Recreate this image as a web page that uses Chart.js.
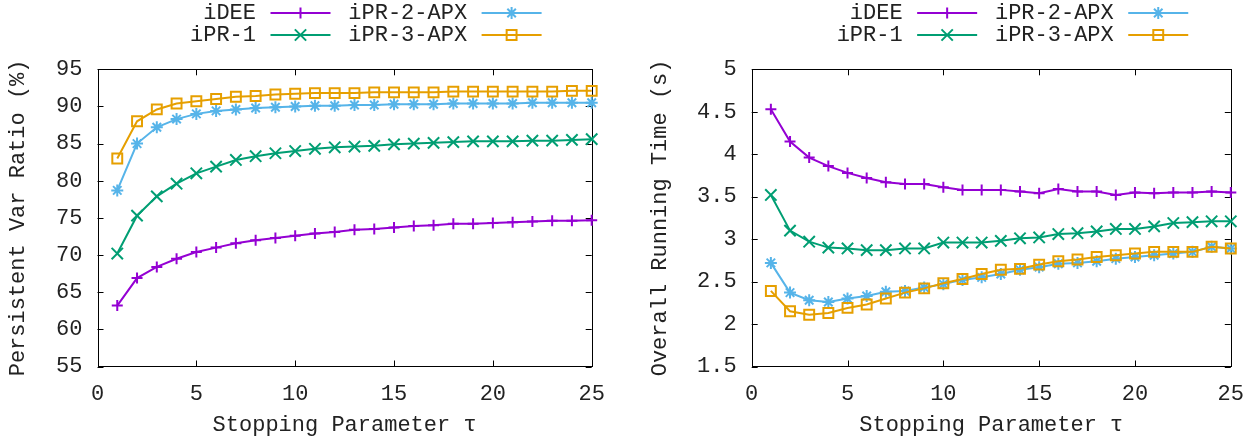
<!DOCTYPE html>
<html>
<head>
<meta charset="utf-8">
<script src="https://cdn.jsdelivr.net/npm/chart.js@4/dist/chart.umd.min.js"></script>
<style>
    body { margin: 0; background: #fff; }
    .charts { display: flex; width: 1258px; height: 438px; }
    .panel { width: 629px; height: 438px; }
</style>
</head>
<body>
<div class="charts">
    <div class="panel"><canvas id="ratioChart" width="629" height="438"></canvas></div>
    <div class="panel"><canvas id="timeChart" width="629" height="438"></canvas></div>
</div>
<script>
// Stopping parameter tau
const taus = [1, 2, 3, 4, 5, 6, 7, 8, 9, 10, 11, 12, 13, 14, 15, 16, 17, 18, 19, 20, 21, 22, 23, 24, 25];

const seriesNames = ['iDEE', 'iPR-1', 'iPR-2-APX', 'iPR-3-APX'];

// Persistent var ratio (%)
const ratioIDEE = [63.2, 66.9, 68.4, 69.5, 70.4, 71.0, 71.6, 72.0, 72.3, 72.6, 72.9, 73.1, 73.4, 73.5, 73.7, 73.9, 74.0, 74.2, 74.2, 74.3, 74.4, 74.5, 74.6, 74.6, 74.7];
const ratioIPR1 = [70.2, 75.3, 77.9, 79.6, 81.0, 81.9, 82.8, 83.3, 83.7, 84.0, 84.3, 84.5, 84.6, 84.7, 84.9, 85.0, 85.1, 85.2, 85.3, 85.3, 85.3, 85.4, 85.4, 85.5, 85.6];
const ratioIPR2 = [78.7, 85.0, 87.2, 88.3, 89.0, 89.4, 89.6, 89.8, 89.9, 90.0, 90.1, 90.1, 90.2, 90.2, 90.3, 90.3, 90.3, 90.4, 90.4, 90.4, 90.4, 90.5, 90.5, 90.5, 90.5];
const ratioIPR3 = [83.0, 88.0, 89.6, 90.4, 90.7, 91.0, 91.3, 91.4, 91.6, 91.7, 91.8, 91.8, 91.8, 91.9, 91.9, 91.9, 91.9, 92.0, 92.0, 92.0, 92.0, 92.0, 92.0, 92.1, 92.1];

// Overall running time (s)
const timeIDEE = [4.53, 4.15, 3.96, 3.86, 3.78, 3.72, 3.67, 3.65, 3.65, 3.61, 3.58, 3.58, 3.58, 3.56, 3.54, 3.59, 3.56, 3.56, 3.52, 3.55, 3.54, 3.55, 3.55, 3.56, 3.55];
const timeIPR1 = [3.52, 3.10, 2.97, 2.90, 2.89, 2.87, 2.87, 2.89, 2.89, 2.96, 2.96, 2.96, 2.98, 3.01, 3.02, 3.06, 3.07, 3.09, 3.12, 3.12, 3.15, 3.19, 3.20, 3.21, 3.21];
const timeIPR2 = [2.72, 2.37, 2.28, 2.26, 2.30, 2.33, 2.38, 2.39, 2.43, 2.47, 2.52, 2.55, 2.59, 2.64, 2.67, 2.71, 2.72, 2.74, 2.77, 2.79, 2.81, 2.83, 2.85, 2.91, 2.89];
const timeIPR3 = [2.39, 2.15, 2.11, 2.13, 2.19, 2.23, 2.30, 2.37, 2.42, 2.48, 2.53, 2.59, 2.64, 2.65, 2.70, 2.74, 2.76, 2.79, 2.81, 2.83, 2.85, 2.85, 2.85, 2.91, 2.89];

// Tick values and labels
const xTickValues = [0, 5, 10, 15, 20, 25];
const xTickLabels = ['0', '5', '10', '15', '20', '25'];
const ratioTickValues = [55, 60, 65, 70, 75, 80, 85, 90, 95];
const ratioTickLabels = ['55', '60', '65', '70', '75', '80', '85', '90', '95'];
const timeTickValues = [1.5, 2, 2.5, 3, 3.5, 4, 4.5, 5];
const timeTickLabels = ['1.5', '2', '2.5', '3', '3.5', '4', '4.5', '5'];

const FONT = "'Liberation Mono', 'Courier New', monospace";
const TEXT = '#222';
Chart.defaults.font.family = FONT;
Chart.defaults.font.size = 22;
Chart.defaults.color = TEXT;

const styles = [
    { color: '#9400D3', pointStyle: 'cross', radius: 5.5 },
    { color: '#009E73', pointStyle: 'crossRot', radius: 8 },
    { color: '#56B4E9', pointStyle: 'star', radius: 6 },
    { color: '#E69F00', pointStyle: 'rect', radius: 7 }
];

// gnuplot style frame: border box with inward ticks on all four sides
const framePlugin = {
    id: 'frame',
    beforeDatasetsDraw(chart) {
        const { ctx, chartArea: a, scales } = chart;
        const len = 6;
        ctx.save();
        ctx.strokeStyle = '#000';
        ctx.lineWidth = 1;
        ctx.beginPath();
        scales.x.ticks.forEach(t => {
            const px = Math.round(scales.x.getPixelForValue(t.value)) + 0.5;
            ctx.moveTo(px, a.bottom); ctx.lineTo(px, a.bottom - len);
            ctx.moveTo(px, a.top); ctx.lineTo(px, a.top + len);
        });
        scales.y.ticks.forEach(t => {
            const py = Math.round(scales.y.getPixelForValue(t.value)) + 0.5;
            ctx.moveTo(a.left, py); ctx.lineTo(a.left + len, py);
            ctx.moveTo(a.right, py); ctx.lineTo(a.right - len, py);
        });
        ctx.stroke();
        ctx.strokeRect(Math.round(a.left) + 0.5, Math.round(a.top) + 0.5,
            Math.round(a.right - a.left), Math.round(a.bottom - a.top));
        ctx.restore();
    }
};

// two column legend above the plot, like gnuplot's key
const keyPlugin = {
    id: 'key',
    afterDraw(chart) {
        const { ctx, chartArea: a } = chart;
        const cx = (a.left + a.right) / 2;
        const cols = [cx - 88.6, cx + 122.5];
        const rows = [13, 35];
        const order = [0, 2, 1, 3];
        ctx.save();
        ctx.font = '22px ' + FONT;
        ctx.textAlign = 'right';
        ctx.textBaseline = 'middle';
        order.forEach((di, i) => {
            const ds = chart.data.datasets[di];
            const tx = cols[i % 2];
            const ty = rows[Math.floor(i / 2)];
            ctx.fillStyle = TEXT;
            ctx.fillText(ds.label, tx, ty);
            const x0 = tx + 14.5, x1 = x0 + 60;
            ctx.strokeStyle = ds.borderColor;
            ctx.lineWidth = 2;
            ctx.beginPath();
            ctx.moveTo(x0, ty); ctx.lineTo(x1, ty);
            ctx.stroke();
            ctx.fillStyle = 'rgba(0,0,0,0)';
            Chart.helpers.drawPoint(ctx, {
                pointStyle: ds.pointStyle,
                radius: ds.pointRadius,
                borderWidth: ds.pointBorderWidth,
                rotation: 0
            }, (x0 + x1) / 2, ty);
        });
        ctx.restore();
    }
};

function buildDatasets(seriesValues) {
    return seriesValues.map((values, i) => ({
        label: seriesNames[i],
        data: values.map((v, j) => ({ x: taus[j], y: v })),
        borderColor: styles[i].color,
        backgroundColor: 'rgba(0,0,0,0)',
        borderWidth: 2,
        pointStyle: styles[i].pointStyle,
        pointRadius: styles[i].radius,
        pointBorderWidth: 2,
        pointBorderColor: styles[i].color,
        pointBackgroundColor: 'rgba(0,0,0,0)',
        tension: 0,
        clip: false,
        order: 3 - i
    }));
}

function makeChart(canvasId, opts) {
    return new Chart(document.getElementById(canvasId), {
        type: 'line',
        data: { datasets: buildDatasets(opts.series) },
        options: {
            responsive: false,
            devicePixelRatio: 1,
            animation: false,
            layout: { padding: { top: 69.3, right: opts.padRight, left: 0, bottom: 0 } },
            plugins: { legend: { display: false }, tooltip: { enabled: false } },
            scales: {
                x: {
                    type: 'linear',
                    min: 0,
                    max: 25,
                    afterBuildTicks: s => { s.ticks = xTickValues.map(v => ({ value: v })); },
                    afterFit: s => { s.height = 71.5; },
                    grid: { display: false, drawTicks: false },
                    border: { display: false },
                    ticks: {
                        padding: 14,
                        color: TEXT,
                        maxRotation: 0,
                        callback: (v, i) => xTickLabels[i]
                    },
                    title: {
                        display: true,
                        text: 'Stopping Parameter τ',
                        color: TEXT,
                        padding: { top: 0, bottom: 0 }
                    }
                },
                y: {
                    type: 'linear',
                    min: opts.yTicks[0],
                    max: opts.yTicks[opts.yTicks.length - 1],
                    afterBuildTicks: s => { s.ticks = opts.yTicks.map(v => ({ value: v })); },
                    afterFit: s => { s.width = opts.yWidth; },
                    grid: { display: false, drawTicks: false },
                    border: { display: false },
                    ticks: {
                        padding: 15,
                        color: TEXT,
                        callback: (v, i) => opts.yLabels[i]
                    },
                    title: {
                        display: true,
                        text: opts.yTitle,
                        color: TEXT,
                        padding: { top: opts.titlePad, bottom: 0 }
                    }
                }
            }
        },
        plugins: [framePlugin, keyPlugin]
    });
}

makeChart('ratioChart', {
    series: [ratioIDEE, ratioIPR1, ratioIPR2, ratioIPR3],
    yTicks: ratioTickValues,
    yLabels: ratioTickLabels,
    yTitle: 'Persistent Var Ratio (%)',
    yWidth: 97.5,
    padRight: 37.3,
    titlePad: 5
});

makeChart('timeChart', {
    series: [timeIDEE, timeIPR1, timeIPR2, timeIPR3],
    yTicks: timeTickValues,
    yLabels: timeTickLabels,
    yTitle: 'Overall Running Time (s)',
    yWidth: 122.7,
    padRight: 26.3,
    titlePad: 18
});
</script>
</body>
</html>
